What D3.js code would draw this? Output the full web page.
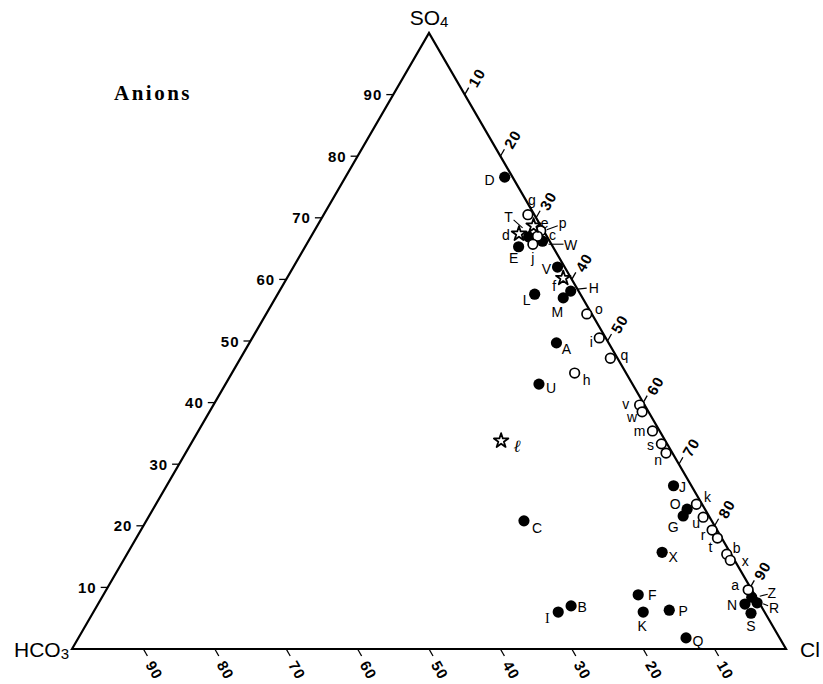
<!DOCTYPE html>
<html>
<head>
<meta charset="utf-8">
<script src="https://cdn.jsdelivr.net/npm/d3@7"></script>
<style>
  html, body { margin: 0; padding: 0; background: #fff; }
  svg { display: block; }
</style>
</head>
<body>
<svg id="chart" width="823" height="684"></svg>
<script>
// ---- Data (percentages) ----
const pointNames = ["D","g","e","p","c","d","T","","W","j","E","V","f","H","M","L","o","i","q","A","h","U","ℓ","v","w","m","s","n","C","J","k","O","G","u","r","t","b","x","X","a","Z","R","N","S","F","K","P","Q","I","B"];
const pointTypes = ["filled","open","star","open","open","star","filled","filled","filled","open","filled","filled","star","filled","filled","filled","open","open","open","filled","open","filled","star","open","open","open","open","open","filled","filled","open","filled","filled","open","open","open","open","open","filled","open","filled","filled","filled","filled","filled","filled","filled","filled","filled","filled"];
const so4Values  = [76.6,70.5,68.7,67.9,67.0,67.4,66.9,66.7,66.2,65.7,65.3,62.0,60.2,58.1,57.0,57.6,54.4,50.5,47.2,49.7,44.8,43.0,33.8,39.6,38.5,35.4,33.3,31.8,20.8,26.5,23.5,22.7,21.6,21.4,19.3,18.0,15.4,14.4,15.7,9.6,8.4,7.5,7.3,5.8,8.8,6.0,6.3,1.8,6.0,7.0];
const clValues   = [22.3,28.6,30.3,31.7,31.7,28.9,30.5,31.6,32.8,31.7,29.9,37.0,38.7,40.8,40.3,36.0,44.9,48.6,51.8,43.0,48.0,43.9,43.2,59.7,60.6,63.6,65.9,67.3,52.9,71.0,75.7,74.8,74.8,77.7,80.0,81.4,84.0,85.0,74.8,89.9,91.0,92.2,90.6,92.2,74.9,77.0,80.5,85.1,65.1,66.4];
const hco3Values = [1.1,0.9,1.0,0.4,1.3,3.7,2.6,1.7,1.0,2.6,4.8,1.0,1.1,1.1,2.7,6.4,0.7,0.9,1.0,7.3,7.2,13.1,23.0,0.7,0.9,1.0,0.8,0.9,26.3,2.5,0.8,2.5,3.6,0.9,0.7,0.6,0.6,0.6,9.5,0.5,0.6,0.3,2.1,2.0,16.3,17.0,13.2,13.1,28.9,26.6];
const tickValues = [10,20,30,40,50,60,70,80,90];
const vertexNames = ["HCO3","SO4","Cl"];
const title = "Anions";

// ---- Layout (label offsets relative to their point, in px) ----
const labelOffset = {
  "D":[-15,3],"g":[4,-15],"e":[11,-3],"p":[22,-8],"c":[15,-1],"d":[-13,1],"T":[-20,-20],"":[0,0],
  "W":[28,4],"j":[0,14],"E":[-5,11],"V":[-11,2],"f":[-9,8],"H":[23,-3],"M":[-6,14],"L":[-8,6],
  "o":[12,-5],"i":[-8,4],"q":[14,-3],"A":[10,6],"h":[12,7],"U":[12,4],"ℓ":[16,6],"v":[-14,-1],
  "w":[-10,5],"m":[-13,0],"s":[-11,1],"n":[-8,7],"C":[13,7],"J":[9,1],"k":[11,-7],"O":[-12,-5],
  "G":[-10,11],"u":[-7,6],"r":[-9,5],"t":[-7,9],"b":[10,-6],"x":[15,1],"X":[11,5],"a":[-13,-5],
  "Z":[20,-4],"R":[17,5],"N":[-13,1],"S":[0,13],"F":[14,0],"K":[-1,14],"P":[14,1],"Q":[12,3],
  "I":[-11,6],"B":[11,1]
};
const leaders = {
  "T":[-15,-17,-6,-9], "p":[17,-5,6,-1], "W":[6,3,21,3], "H":[7,-2,16,-3],
  "Z":[8,-1,16,-3], "R":[6,1,11,3]
};

const svg = d3.select("#chart");
const xS = d3.scaleLinear().domain([0,100]).range([72,786]);
const yS = d3.scaleLinear().domain([0,100]).range([649,33]);
// ternary -> screen
const px = (so4, cl) => xS(cl + so4/2);
const py = (so4) => yS(so4);

const sans = "'Liberation Sans', Arial, Helvetica, sans-serif";
const serif = "'Liberation Serif', 'Times New Roman', serif";

// Triangle
const verts = [[px(0,0),py(0)],[px(100,0),py(100)],[px(0,100),py(0)]];
svg.append("path")
  .attr("d", d3.line()(verts) + "Z")
  .attr("fill","none").attr("stroke","#000").attr("stroke-width",2.2)
  .attr("stroke-linejoin","miter");

// Axes ticks and labels
const gAx = svg.append("g").attr("font-family", sans).attr("font-size", 15).attr("font-weight","bold").attr("fill","#000");
tickValues.forEach(k => {
  // left edge: SO4 = k
  const lx = px(k,0), ly = py(k);
  gAx.append("line").attr("x1",lx).attr("y1",ly).attr("x2",lx-7).attr("y2",ly)
    .attr("stroke","#000").attr("stroke-width",1.3);
  gAx.append("text").attr("x",lx-11).attr("y",ly).attr("text-anchor","end")
    .attr("dominant-baseline","central").attr("letter-spacing",1).text(k);
  // bottom edge: HCO3 = k
  const bx = px(0,100-k), by = py(0);
  gAx.append("line").attr("x1",bx).attr("y1",by).attr("x2",bx+4).attr("y2",by+7)
    .attr("stroke","#000").attr("stroke-width",1.3);
  gAx.append("text").attr("transform",`translate(${bx+11},${by+21}) rotate(60)`)
    .attr("text-anchor","middle").attr("dominant-baseline","central").attr("letter-spacing",1).text(k);
  // right edge: Cl = k
  const rx = px(100-k,k), ry = py(100-k);
  gAx.append("line").attr("x1",rx).attr("y1",ry).attr("x2",rx+4).attr("y2",ry-7)
    .attr("stroke","#000").attr("stroke-width",1.3);
  gAx.append("text").attr("transform",`translate(${rx+12},${ry-17}) rotate(-60)`)
    .attr("text-anchor","middle").attr("dominant-baseline","central").attr("letter-spacing",1).text(k);
});

// Vertex labels
function vertexLabel(name, x, y, anchor) {
  const t = svg.append("text").attr("x",x).attr("y",y).attr("text-anchor",anchor)
    .attr("font-family",sans).attr("font-size",21).attr("fill","#000");
  const m = name.match(/^(\D+)(\d*)$/);
  t.append("tspan").text(m[1]);
  if (m[2]) t.append("tspan").attr("font-size",15).attr("dy",2).text(m[2]);
}
vertexLabel(vertexNames[0], 69, 657, "end");
vertexLabel(vertexNames[1], 429, 25, "middle");
vertexLabel(vertexNames[2], 800, 657, "start");

// Title
svg.append("text").attr("x",153).attr("y",100).attr("text-anchor","middle")
  .attr("font-family",serif).attr("font-size",21).attr("font-weight","bold").attr("letter-spacing",2.5)
  .attr("fill","#000").text(title);

// Points
const pts = pointNames.map((n,i) => ({
  name:n, type:pointTypes[i], so4:so4Values[i], cl:clValues[i], hco3:hco3Values[i],
  x: px(so4Values[i], clValues[i]), y: py(so4Values[i])
}));

const gP = svg.append("g");
gP.selectAll("circle.filled").data(pts.filter(d=>d.type==="filled")).join("circle")
  .attr("class","filled").attr("cx",d=>d.x).attr("cy",d=>d.y).attr("r",5.6).attr("fill","#000");
gP.selectAll("circle.open").data(pts.filter(d=>d.type==="open")).join("circle")
  .attr("class","open").attr("cx",d=>d.x).attr("cy",d=>d.y).attr("r",4.8)
  .attr("fill","#fff").attr("stroke","#000").attr("stroke-width",1.7);
const star = d3.symbol().type(d3.symbolStar).size(65);
gP.selectAll("path.star").data(pts.filter(d=>d.type==="star")).join("path")
  .attr("class","star").attr("d",star).attr("transform",d=>`translate(${d.x},${d.y})`)
  .attr("fill","#fff").attr("stroke","#000").attr("stroke-width",1.8).attr("stroke-linejoin","round");

// Leaders
pts.filter(d=>leaders[d.name]).forEach(d => {
  const l = leaders[d.name];
  gP.append("line").attr("x1",d.x+l[0]).attr("y1",d.y+l[1]).attr("x2",d.x+l[2]).attr("y2",d.y+l[3])
    .attr("stroke","#000").attr("stroke-width",1.1);
});

// Point labels
gP.selectAll("text.lab").data(pts.filter(d=>d.name!=="")).join("text")
  .attr("class","lab")
  .attr("x",d=>d.x+labelOffset[d.name][0]).attr("y",d=>d.y+labelOffset[d.name][1])
  .attr("text-anchor","middle").attr("dominant-baseline","central")
  .attr("font-family",d => (d.name==="ℓ"||d.name==="I") ? serif : sans)
  .attr("font-style",d => d.name==="ℓ" ? "italic" : "normal")
  .attr("font-size",d => d.name==="ℓ" ? 17 : 14)
  .attr("fill","#000").text(d=>d.name);
</script>
</body>
</html>
